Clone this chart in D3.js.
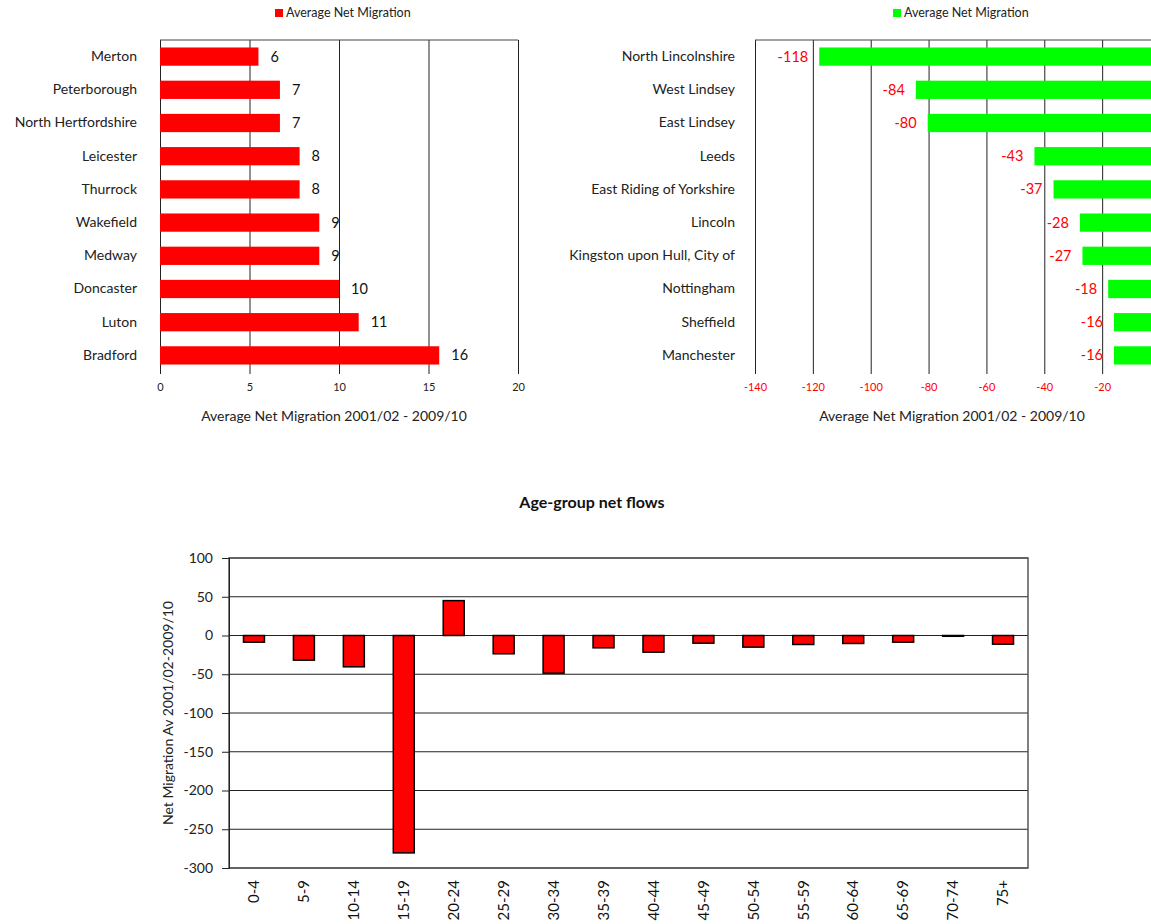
<!DOCTYPE html>
<html><head><meta charset="utf-8">
<script src="https://cdn.jsdelivr.net/npm/d3@7"></script>
<style>body{margin:0;background:#fff} text{font-family:Lato, "Open Sans", sans-serif}</style>
</head><body><svg id="c" width="1151" height="924"></svg>
<script>
// ---------- data ----------
const gainAreas = ["Merton","Peterborough","North Hertfordshire","Leicester","Thurrock","Wakefield","Medway","Doncaster","Luton","Bradford"];
const gainValues = [5.5, 6.7, 6.7, 7.8, 7.8, 8.9, 8.9, 10.0, 11.1, 15.6];
const gainTicks = [0, 5, 10, 15, 20];

const lossAreas = ["North Lincolnshire","West Lindsey","East Lindsey","Leeds","East Riding of Yorkshire","Lincoln","Kingston upon Hull, City of","Nottingham","Sheffield","Manchester"];
const lossValues = [-117.8, -84.4, -80.3, -43.4, -36.8, -27.7, -26.8, -17.9, -15.9, -15.9];
const lossTicks = [-140, -120, -100, -80, -60, -40, -20];

const ageGroups = ["0-4","5-9","10-14","15-19","20-24","25-29","30-34","35-39","40-44","45-49","50-54","55-59","60-64","65-69","70-74","75+"];
const ageValues = [-8.6, -31.8, -40.4, -280.5, 45, -23.6, -48.6, -15.9, -21.5, -9.9, -15, -11.6, -10.3, -8.6, -1, -11.2];
const ageTicks = [100, 50, 0, -50, -100, -150, -200, -250, -300];

const seriesName = "Average Net Migration";
const xTitle = "Average Net Migration 2001/02 - 2009/10";
const ageTitle = "Age-group net flows";
const ageYTitle = "Net Migration Av 2001/02-2009/10";

const svg = d3.select("#c");

// ---------- top-left: gains ----------
(function(){
  const top = 40, bottom = 372, left = 160, right = 518;
  const x = d3.scaleLinear().domain([0, 20]).range([left, right]);
  const y = d3.scaleBand().domain(gainAreas).range([top, bottom]).paddingInner(0.45).paddingOuter(0.225);
  const g = svg.append("g");
  const ax = g.append("g").attr("transform", `translate(0,${bottom + 2})`)
    .call(d3.axisBottom(x).tickValues(gainTicks).tickSize(-(bottom + 2 - top)).tickPadding(9).tickFormat(d => d));
  ax.select(".domain").remove();
  ax.selectAll("line").attr("stroke", "#222");
  ax.selectAll("text").attr("font-size", 11).attr("fill", "#222");
  g.append("line").attr("x1", left).attr("x2", right).attr("y1", top).attr("y2", top).attr("stroke", "#444");
  g.selectAll("rect.bar").data(gainValues).join("rect").attr("class", "bar")
    .attr("x", x(0)).attr("y", (d, i) => y(gainAreas[i]))
    .attr("width", d => x(d) - x(0)).attr("height", y.bandwidth()).attr("fill", "#ff0000");
  g.selectAll("text.val").data(gainValues).join("text").attr("class", "val")
    .attr("x", d => x(d) + 12).attr("y", (d, i) => y(gainAreas[i]) + y.bandwidth() / 2)
    .attr("dy", "0.35em").attr("font-size", 14.5).attr("fill", "#111").text(d => Math.round(d));
  const cy = g.append("g").attr("transform", `translate(${left},0)`)
    .call(d3.axisLeft(y).tickSize(0).tickPadding(23));
  cy.select(".domain").remove();
  cy.selectAll("text").attr("font-size", 14).attr("fill", "#222");
  g.append("text").attr("x", 334).attr("y", 421).attr("text-anchor", "middle")
    .attr("font-size", 14).attr("fill", "#222").text(xTitle);
  g.append("rect").attr("x", 275).attr("y", 9).attr("width", 8).attr("height", 8).attr("fill", "#ff0000");
  g.append("text").attr("x", 286).attr("y", 13).attr("dy", "0.35em").attr("font-size", 12.5).attr("fill", "#222").text(seriesName);
})();

// ---------- top-right: losses ----------
(function(){
  const top = 40, bottom = 372, left = 755, right = 1160;
  const x = d3.scaleLinear().domain([-140, 0]).range([left, right]);
  const y = d3.scaleBand().domain(lossAreas).range([top, bottom]).paddingInner(0.45).paddingOuter(0.225);
  const g = svg.append("g");
  const ax = g.append("g").attr("transform", `translate(0,${bottom + 2})`)
    .call(d3.axisBottom(x).tickValues(lossTicks).tickSize(-(bottom + 2 - top)).tickPadding(9).tickFormat(d => String(d)));
  ax.select(".domain").remove();
  ax.selectAll("line").attr("stroke", "#222");
  ax.selectAll("text").attr("font-size", 11).attr("fill", "#ff0000");
  g.append("line").attr("x1", left).attr("x2", right).attr("y1", top).attr("y2", top).attr("stroke", "#444");
  g.selectAll("rect.bar").data(lossValues).join("rect").attr("class", "bar")
    .attr("x", d => x(d)).attr("y", (d, i) => y(lossAreas[i]))
    .attr("width", d => x(0) - x(d)).attr("height", y.bandwidth()).attr("fill", "#00ff00");
  g.selectAll("text.val").data(lossValues).join("text").attr("class", "val")
    .attr("x", d => x(d) - 11).attr("y", (d, i) => y(lossAreas[i]) + y.bandwidth() / 2)
    .attr("dy", "0.35em").attr("text-anchor", "end").attr("font-size", 14.5).attr("fill", "#ff0000")
    .text(d => String(Math.round(d)));
  const cy = g.append("g").attr("transform", `translate(${left},0)`)
    .call(d3.axisLeft(y).tickSize(0).tickPadding(20));
  cy.select(".domain").remove();
  cy.selectAll("text").attr("font-size", 14).attr("fill", "#222");
  g.append("text").attr("x", 952).attr("y", 421).attr("text-anchor", "middle")
    .attr("font-size", 14).attr("fill", "#222").text(xTitle);
  g.append("rect").attr("x", 893).attr("y", 9).attr("width", 8).attr("height", 8).attr("fill", "#00ff00");
  g.append("text").attr("x", 904).attr("y", 13).attr("dy", "0.35em").attr("font-size", 12.5).attr("fill", "#222").text(seriesName);
})();

// ---------- bottom: age groups ----------
(function(){
  const top = 558, bottom = 868, left = 229, right = 1028;
  const x = d3.scaleBand().domain(ageGroups).range([left, right]).paddingInner(0.58).paddingOuter(0.29);
  const y = d3.scaleLinear().domain([-300, 100]).range([bottom, top]);
  const g = svg.append("g");
  g.append("text").attr("x", 592).attr("y", 508).attr("text-anchor", "middle")
    .attr("font-size", 16).attr("font-weight", "bold").attr("fill", "#111").text(ageTitle);
  g.selectAll("line.grid").data(ageTicks).join("line").attr("class", "grid")
    .attr("x1", left).attr("x2", right).attr("y1", d => y(d)).attr("y2", d => y(d))
    .attr("stroke", "#222").attr("stroke-width", 1);
  g.append("rect").attr("x", left).attr("y", top).attr("width", right - left).attr("height", bottom - top)
    .attr("fill", "none").attr("stroke", "#555").attr("stroke-width", 1.5);
  const ay = g.append("g").attr("transform", `translate(${left},0)`)
    .call(d3.axisLeft(y).tickValues(ageTicks).tickSize(7).tickPadding(9).tickFormat(d => String(d)));
  ay.select(".domain").attr("stroke", "#222");
  ay.selectAll("line").attr("stroke", "#222");
  ay.selectAll("text").attr("font-size", 14).attr("fill", "#222");
  g.selectAll("rect.bar").data(ageValues).join("rect").attr("class", "bar")
    .attr("x", (d, i) => x(ageGroups[i])).attr("width", x.bandwidth())
    .attr("y", d => Math.min(y(d), y(0))).attr("height", d => Math.abs(y(d) - y(0)))
    .attr("fill", "#ff0000").attr("stroke", "#000").attr("stroke-width", 1.5);
  const axx = g.append("g").attr("transform", `translate(0,${bottom})`)
    .call(d3.axisBottom(x).tickSize(0));
  axx.select(".domain").remove();
  axx.selectAll("text").attr("font-size", 15).attr("fill", "#111")
    .attr("transform", "rotate(-90)").attr("text-anchor", "end")
    .attr("x", -12).attr("y", 0).attr("dy", "0.35em");
  g.append("text").attr("transform", `translate(173,${(top + bottom) / 2}) rotate(-90)`)
    .attr("text-anchor", "middle").attr("font-size", 14).attr("fill", "#222").text(ageYTitle);
})();
</script></body></html>
